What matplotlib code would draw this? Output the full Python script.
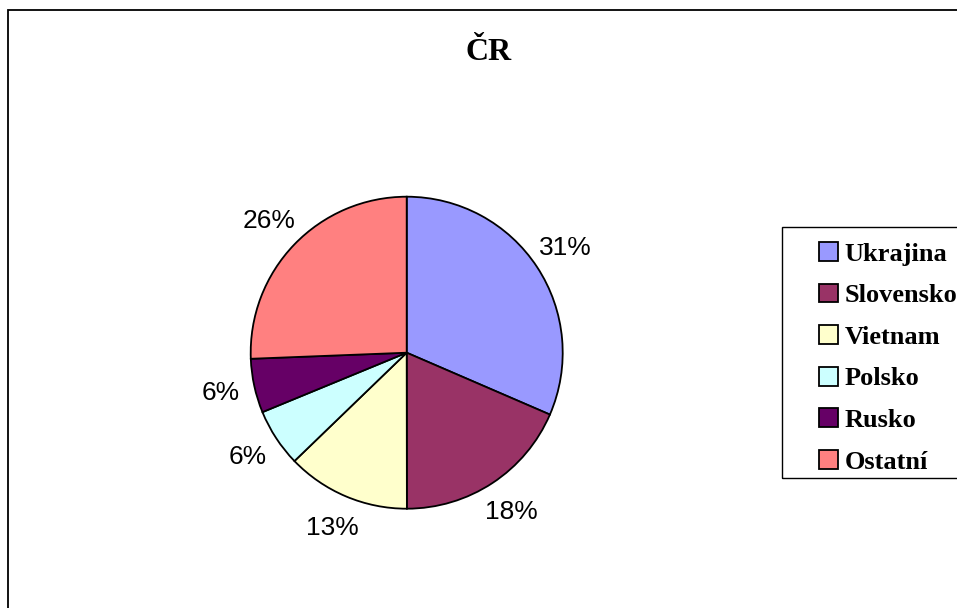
import matplotlib.pyplot as plt
from matplotlib.patches import Rectangle

# data (percent share)
countries = ['Ukrajina', 'Slovensko', 'Vietnam', 'Polsko', 'Rusko', 'Ostatní']
shares = [31.49, 18.49, 12.8, 6.0, 5.6, 25.62]
colors = ['#9999FF', '#993366', '#FFFFCC', '#CCFFFF', '#660066', '#FF8080']
title = 'ČR'

W, H = 957, 608
fig = plt.figure(figsize=(W / 100, H / 100), dpi=100)

# outer chart frame (right/bottom edges run off the image)
fig.patches.append(Rectangle((8 / W, -0.1), 1.2, 1 - 10 / H + 0.1,
                             transform=fig.transFigure, fill=False,
                             edgecolor='black', linewidth=1.3))

# pie centre ~ (406.7, 352.7) px, radius ~156 px
cx, cy, r = 406.7, 352.7, 156
ax = fig.add_axes([(cx - r) / W, (H - cy - r) / H, 2 * r / W, 2 * r / H])
wedges, texts, autotexts = ax.pie(
    shares, colors=colors, startangle=90, counterclock=False,
    autopct='%.0f%%', pctdistance=1.22,
    wedgeprops=dict(edgecolor='black', linewidth=1.3),
    textprops=dict(family='Liberation Sans', fontsize=19, color='black'))
ax.set_xlim(-1, 1)
ax.set_ylim(-1, 1)
ax.set_aspect('equal')
ax.axis('off')

fig.text(489 / W, 1 - 53 / H, title, ha='center', va='center',
         family='Liberation Serif', fontweight='bold', fontsize=23)

# legend box (runs off the right edge), entries drawn without a frame
fig.patches.append(Rectangle((782 / W, 1 - 478 / H), 0.3, 251 / H,
                             transform=fig.transFigure, fill=False,
                             edgecolor='black', linewidth=1.0))
leg = fig.legend(wedges, countries, loc='upper left',
                 bbox_to_anchor=(819 / W, 1 - 242 / H),
                 prop=dict(family='Liberation Serif', weight='bold', size=19),
                 frameon=False,
                 handlelength=0.72, handleheight=0.72, handletextpad=0.25,
                 labelspacing=0.68, borderpad=0, borderaxespad=0)

fig.savefig('out.png', dpi=100)
